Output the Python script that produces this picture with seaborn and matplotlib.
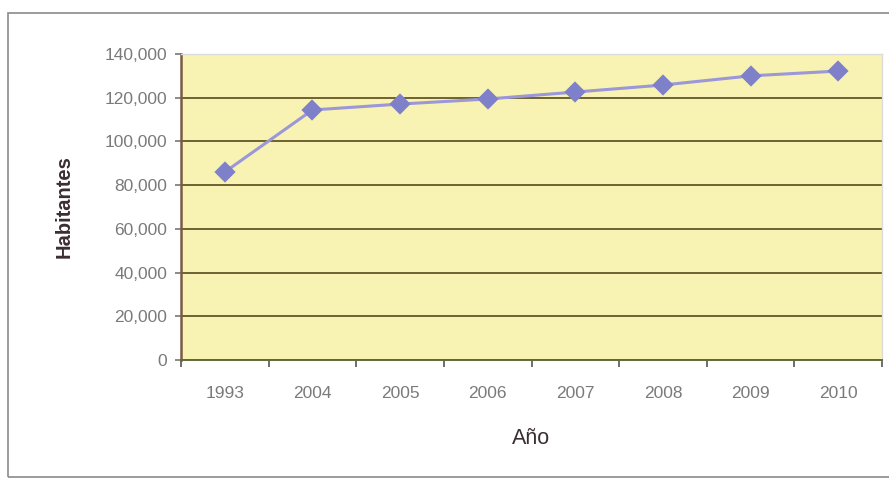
import matplotlib
matplotlib.use("Agg")
import matplotlib.pyplot as plt
import seaborn as sns
import pandas as pd
from matplotlib.ticker import FuncFormatter, FixedLocator, NullFormatter
from matplotlib.patches import Rectangle

# Población por año
anios = ["1993", "2004", "2005", "2006", "2007", "2008", "2009", "2010"]
habitantes = [86000, 114400, 117100, 119400, 122600, 125800, 130000, 132200]

df = pd.DataFrame({"Año": anios, "Habitantes": habitantes})

sns.set_theme(style="white")
plt.rcParams["font.family"] = ["Liberation Sans", "DejaVu Sans"]

fig = plt.figure(figsize=(8.89, 4.79), dpi=100)
fig.patch.set_facecolor("white")

# marco exterior del gráfico
fig.add_artist(Rectangle((8 / 889, 2 / 479), 1.0, 1 - 15 / 479,
                         transform=fig.transFigure, fill=False,
                         edgecolor="#8a8a8a", linewidth=1.2))

ax = fig.add_axes([181 / 889, 1 - 360 / 479, 701 / 889, 306 / 479])
ax.set_facecolor("#F8F3B2")

sns.pointplot(data=df, x="Año", y="Habitantes", ax=ax,
              color="#9B97D8", markers="D", markersize=9,
              linewidth=2.2, errorbar=None)
for coll in ax.collections:
    coll.set_facecolor("#7E80C9")
    coll.set_edgecolor("#7E80C9")
for ln in ax.lines:
    ln.set_markerfacecolor("#7E80C9")
    ln.set_markeredgecolor("#7E80C9")

ax.set_xlim(-0.5, len(anios) - 0.5)
ax.set_ylim(0, 140000)
ax.set_yticks(range(0, 140001, 20000))
ax.yaxis.set_major_formatter(FuncFormatter(lambda v, p: f"{int(v):,}"))

ax.yaxis.grid(True, color="#6E6232", linewidth=1.4)
ax.set_axisbelow(True)

# ticks del eje x entre categorías
ax.xaxis.set_minor_locator(FixedLocator([i + 0.5 for i in range(-1, len(anios))]))
ax.xaxis.set_minor_formatter(NullFormatter())
ax.tick_params(axis="x", which="major", length=0, pad=19,
               labelsize=12.5, labelcolor="#7a7a7a")
ax.tick_params(axis="x", which="minor", length=5, width=1.2,
               color="#555555", direction="out", bottom=True)
ax.tick_params(axis="y", which="major", length=4, width=1.2,
               color="#777777", direction="out", left=True,
               labelsize=12.5, labelcolor="#7a7a7a", pad=6)

for side in ["top", "right"]:
    ax.spines[side].set_color("#dcdcdc")
    ax.spines[side].set_linewidth(1.0)
ax.spines["left"].set_color("#7A5A46")
ax.spines["left"].set_linewidth(1.8)
ax.spines["bottom"].set_color("#5f6b3a")
ax.spines["bottom"].set_linewidth(1.4)

ax.set_xlabel("Año", fontsize=15.5, color="#3a2e33", labelpad=19)
ax.set_ylabel("Habitantes", fontsize=14.5, color="#3a2e33",
              fontweight="bold", labelpad=22)

fig.savefig("out.png", dpi=100, facecolor="white")
